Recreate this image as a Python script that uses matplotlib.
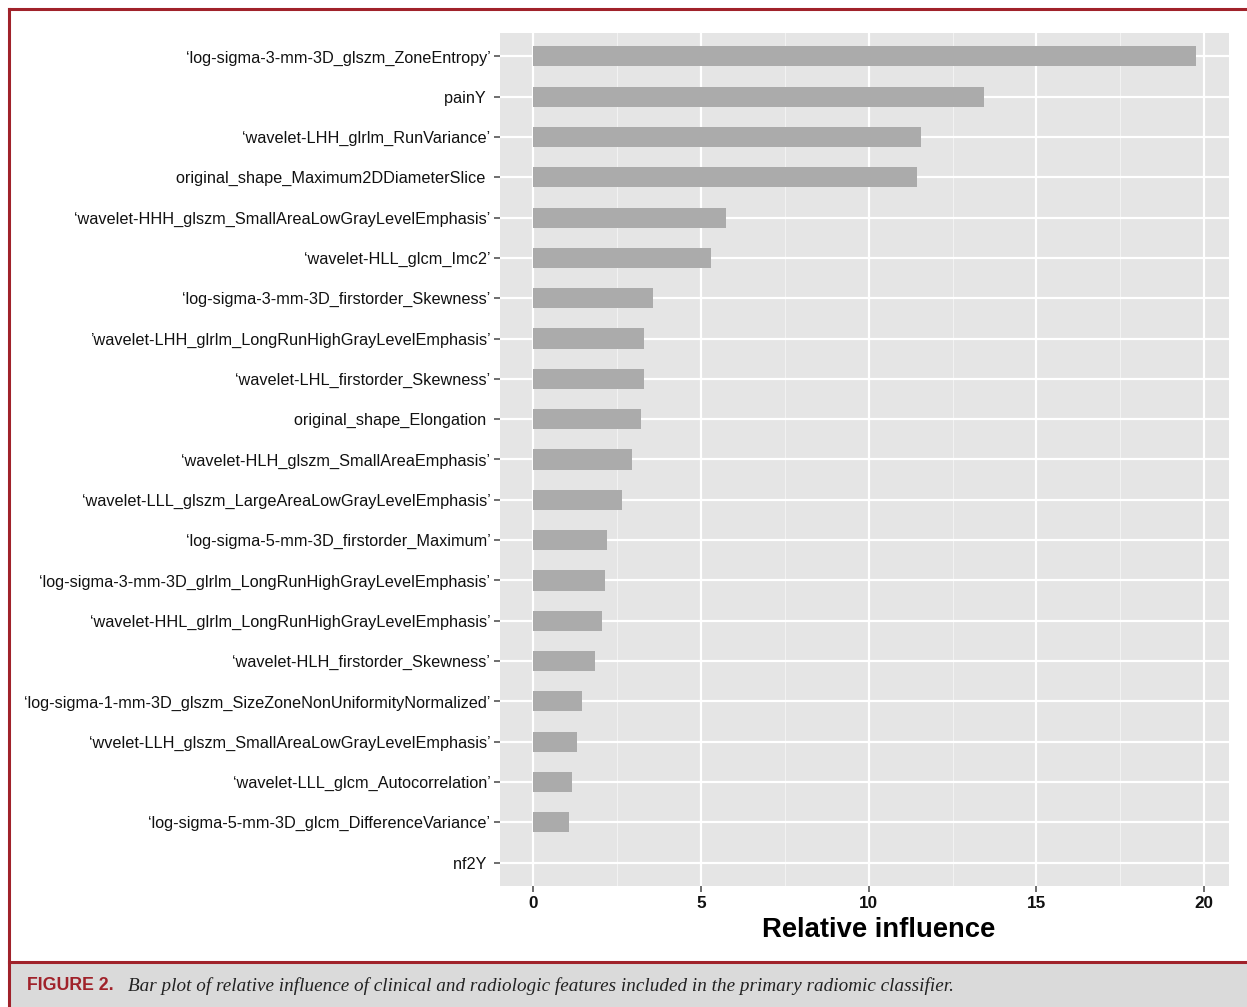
import matplotlib
matplotlib.use('Agg')
import matplotlib.pyplot as plt
from matplotlib.patches import Rectangle
from matplotlib.lines import Line2D
import numpy as np

features = [
    "‘log-sigma-3-mm-3D_glszm_ZoneEntropy’",
    "painY ",
    "‘wavelet-LHH_glrlm_RunVariance’",
    "original_shape_Maximum2DDiameterSlice ",
    "‘wavelet-HHH_glszm_SmallAreaLowGrayLevelEmphasis’",
    "‘wavelet-HLL_glcm_Imc2’",
    "‘log-sigma-3-mm-3D_firstorder_Skewness’",
    "’wavelet-LHH_glrlm_LongRunHighGrayLevelEmphasis’",
    "‘wavelet-LHL_firstorder_Skewness’",
    "original_shape_Elongation ",
    "‘wavelet-HLH_glszm_SmallAreaEmphasis’",
    "‘wavelet-LLL_glszm_LargeAreaLowGrayLevelEmphasis’",
    "‘log-sigma-5-mm-3D_firstorder_Maximum’",
    "‘log-sigma-3-mm-3D_glrlm_LongRunHighGrayLevelEmphasis’",
    "‘wavelet-HHL_glrlm_LongRunHighGrayLevelEmphasis’",
    "‘wavelet-HLH_firstorder_Skewness’",
    "‘log-sigma-1-mm-3D_glszm_SizeZoneNonUniformityNormalized’",
    "‘wvelet-LLH_glszm_SmallAreaLowGrayLevelEmphasis’",
    "‘wavelet-LLL_glcm_Autocorrelation’",
    "‘log-sigma-5-mm-3D_glcm_DifferenceVariance’",
    "nf2Y ",
]
influence = [19.75, 13.45, 11.57, 11.45, 5.76, 5.31, 3.58, 3.29, 3.29, 3.20,
             2.96, 2.66, 2.19, 2.15, 2.06, 1.83, 1.47, 1.32, 1.17, 1.08, 0.0]
x_ticks = [0, 5, 10, 15, 20]

W, H = 1247, 1007
fig = plt.figure(figsize=(W / 100, H / 100), dpi=100)
fig.patch.set_facecolor('white')

ax = fig.add_axes([500 / W, 1 - 886 / H, (1229 - 500) / W, (886 - 33) / H])
ax.set_facecolor('#E5E5E5')

y = np.arange(len(features))
ax.barh(y, influence, height=0.5, color='#ABABAB', zorder=3)

ax.set_ylim(len(features) - 1 + 0.58, -0.58)
xmax = max(influence)
ax.set_xlim(-0.05 * xmax, xmax * 1.05)

ax.set_yticks(y)
ax.set_yticklabels(features, fontsize=11.7, family='Liberation Sans', color='#111111')
ax.set_xticks(x_ticks)
ax.set_xticklabels([str(t) for t in x_ticks], fontsize=12.3, fontweight='bold',
                   family='Liberation Sans', color='#111111')
ax.set_xticks([2.5, 7.5, 12.5, 17.5], minor=True)

ax.grid(which='major', color='white', linewidth=1.6, zorder=1)
ax.grid(which='minor', axis='x', color='#F2F2F2', linewidth=0.8, zorder=1)
ax.tick_params(axis='both', which='major', length=4, width=1.2, color='#555555', pad=3)
ax.tick_params(axis='x', which='minor', length=0)
for s in ax.spines.values():
    s.set_visible(False)

ax.set_xlabel('Relative influence', fontsize=19.7, fontweight='bold',
              family='Liberation Sans', color='black')
ax.xaxis.set_label_coords((879 - 500) / (1229 - 500), -0.036)

# journal frame and caption strip
red = '#A0222A'
fig.add_artist(Rectangle((10 / W, 0), 1 - 10 / W, (H - 963) / H,
                         transform=fig.transFigure, facecolor='#DADADA', edgecolor='none'))
fig.add_artist(Line2D([9 / W, 1], [1 - 9 / H, 1 - 9 / H], transform=fig.transFigure,
                      color=red, linewidth=2.2))
fig.add_artist(Line2D([9 / W, 9 / W], [0, 1 - 9 / H], transform=fig.transFigure,
                      color=red, linewidth=2.2))
fig.add_artist(Line2D([9 / W, 1], [1 - 962 / H, 1 - 962 / H], transform=fig.transFigure,
                      color=red, linewidth=2.2))

fig.text(27 / W, 1 - 986 / H, 'FIGURE 2.', fontsize=12.8, fontweight='bold',
         family='Liberation Sans', color=red, va='center', ha='left')
fig.text(128 / W, 1 - 986 / H,
         'Bar plot of relative influence of clinical and radiologic features included in the primary radiomic classifier.',
         fontsize=13.8, style='italic', family='Liberation Serif', color='#222222',
         va='center', ha='left')

fig.savefig('out.png', dpi=100)
